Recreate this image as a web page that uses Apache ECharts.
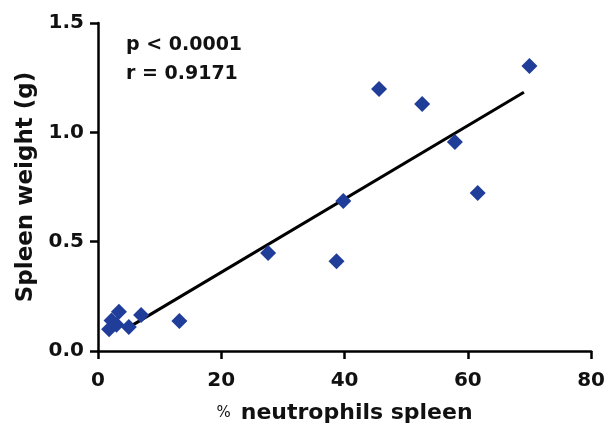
<!DOCTYPE html>
<html>
<head>
<meta charset="utf-8">
<script src="https://cdn.jsdelivr.net/npm/echarts@6/dist/echarts.min.js"></script>
<style>html,body{margin:0;padding:0;background:#fff}#c{width:608px;height:433px}</style>
</head>
<body>
<div id="c"></div>
<script>
// % neutrophils spleen vs spleen weight (g)
const neutrophils = [1.8, 2.2, 3.0, 3.4, 5.0, 7.0, 13.2, 27.6, 38.7, 39.8, 45.6, 52.6, 57.9, 61.6, 70.0];
const spleenWeight = [0.10, 0.14, 0.12, 0.18, 0.11, 0.165, 0.137, 0.448, 0.41, 0.686, 1.198, 1.13, 0.956, 0.722, 1.303];
const fitX = [4.5, 69.1];
const fitY = [0.10, 1.183];
const xTicks = [0, 20, 40, 60, 80];
const yTicks = [0.0, 0.5, 1.0, 1.5];
const statsText = ['p < 0.0001', 'r = 0.9171'];

const FONT = 'DejaVu Sans';
const chart = echarts.init(document.getElementById('c'));
const axisCommon = {
  axisLine: {show: true, onZero: false, lineStyle: {color: '#000', width: 2.5}},
  axisTick: {show: true, inside: false, length: 8, lineStyle: {color: '#000', width: 2.5}},
  splitLine: {show: false}
};
chart.setOption({
  animation: false,
  backgroundColor: '#fff',
  grid: {left: 98, right: 12, top: 23, bottom: 82, containLabel: false},
  xAxis: Object.assign({
    type: 'value', min: xTicks[0], max: xTicks[xTicks.length - 1], interval: 20,
    axisLabel: {color: '#111', fontFamily: FONT, fontWeight: 'bold', fontSize: 20, margin: 20,
      formatter: v => xTicks.includes(v) ? String(v) : ''},
    name: '{a|%}   {b|neutrophils spleen}', nameLocation: 'middle', nameGap: 51,
    nameTextStyle: {rich: {
      a: {fontFamily: FONT, fontSize: 15, color: '#111'},
      b: {fontFamily: FONT, fontSize: 22, fontWeight: 'bold', color: '#111'}
    }}
  }, axisCommon),
  yAxis: Object.assign({
    type: 'value', min: yTicks[0], max: yTicks[yTicks.length - 1], interval: 0.5,
    axisLabel: {color: '#111', fontFamily: FONT, fontWeight: 'bold', fontSize: 20, margin: 14,
      formatter: v => v.toFixed(1)},
    name: 'Spleen weight (g)', nameLocation: 'middle', nameRotate: 90, nameGap: 60,
    nameTextStyle: {fontFamily: FONT, fontSize: 23, fontWeight: 'bold', color: '#111'}
  }, axisCommon),
  graphic: [
    {type: 'text', left: 126, top: 36, style: {text: statsText[0], font: 'bold 19px "DejaVu Sans"', fill: '#111'}},
    {type: 'text', left: 126, top: 65, style: {text: statsText[1], font: 'bold 19px "DejaVu Sans"', fill: '#111'}}
  ],
  series: [
    {type: 'line', data: fitX.map((x, i) => [x, fitY[i]]), symbol: 'none', z: 1,
      lineStyle: {color: '#000', width: 3}},
    {type: 'scatter', data: neutrophils.map((x, i) => [x, spleenWeight[i]]), symbol: 'diamond',
      symbolSize: [16, 16], z: 3, itemStyle: {color: '#1f3d99', opacity: 1}}
  ]
});
</script>
</body>
</html>
